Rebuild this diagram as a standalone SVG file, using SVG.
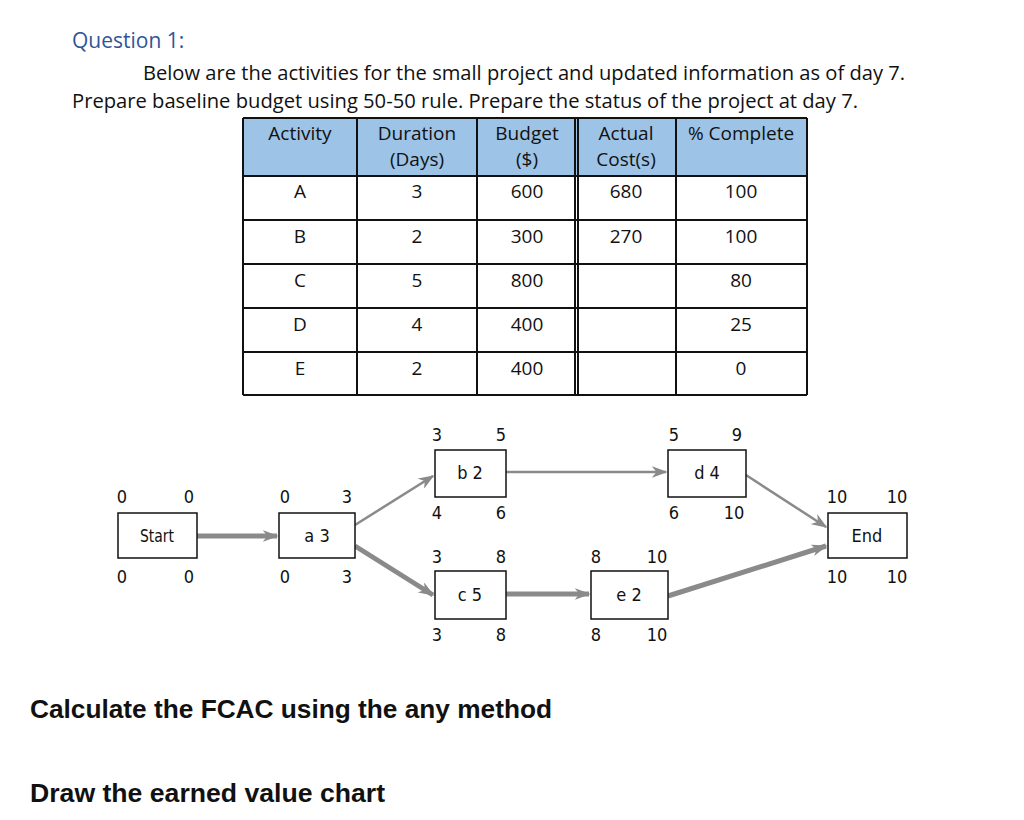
<svg xmlns="http://www.w3.org/2000/svg" width="1024" height="820" viewBox="0 0 1024 820">
<style>
.t{font-family:"Open Sans","Liberation Sans",sans-serif;font-size:20px;fill:#111}
.c{font-family:"Open Sans","Liberation Sans",sans-serif;font-size:19px;fill:#111;text-anchor:middle}
.n{font-family:"DejaVu Sans","Liberation Sans",sans-serif;font-stretch:condensed;font-size:18px;fill:#111;text-anchor:middle}
.box{fill:#fff;stroke:#111;stroke-width:1.5}
.hd{fill:#9DC3E6}
.ln{stroke:#111;stroke-width:2}
.a{stroke:#8a8a8a;fill:none}
.b{font-family:"Liberation Sans",Arial,sans-serif;font-weight:bold;font-size:25px;fill:#111}
</style>
<defs>
<marker id="m" viewBox="0 0 10 10" refX="9" refY="5" markerWidth="16" markerHeight="12" orient="auto" markerUnits="userSpaceOnUse" preserveAspectRatio="none"><path d="M0,0L10,5L0,10L3,5z" fill="#8a8a8a"/></marker>
</defs>
<rect width="1024" height="820" fill="#fff"/>
<text x="72" y="48" class="t" style="fill:#2F5597;font-size:21px">Question 1:</text>
<text x="143" y="80" class="t" textLength="762" lengthAdjust="spacingAndGlyphs">Below are the activities for the small project and updated information as of day 7.</text>
<text x="72" y="108" class="t" textLength="786" lengthAdjust="spacingAndGlyphs">Prepare baseline budget using 50-50 rule. Prepare the status of the project at day 7.</text>
<g id="table">
<rect x="243" y="118" width="564" height="58" class="hd"/>
<g class="ln">
<line x1="243" y1="118" x2="807" y2="118"/><line x1="243" y1="176" x2="807" y2="176"/>
<line x1="243" y1="220" x2="807" y2="220"/><line x1="243" y1="264" x2="807" y2="264"/>
<line x1="243" y1="308" x2="807" y2="308"/><line x1="243" y1="352" x2="807" y2="352"/>
<line x1="243" y1="395" x2="807" y2="395"/>
<line x1="243" y1="118" x2="243" y2="395"/><line x1="357" y1="118" x2="357" y2="395"/>
<line x1="477" y1="118" x2="477" y2="395"/><line x1="575" y1="118" x2="575" y2="395"/><line x1="578" y1="118" x2="578" y2="395"/>
<line x1="676" y1="118" x2="676" y2="395"/><line x1="807" y1="118" x2="807" y2="395"/>
</g>
<text x="300" y="140" class="c">Activity</text>
<text x="417" y="140" class="c">Duration</text><text x="417" y="166" class="c">(Days)</text>
<text x="527" y="140" class="c">Budget</text><text x="527" y="166" class="c">($)</text>
<text x="626" y="140" class="c">Actual</text><text x="626" y="166" class="c">Cost(s)</text>
<text x="741" y="140" class="c">% Complete</text>
<text x="300" y="198" class="c">A</text><text x="417" y="198" class="c">3</text><text x="527" y="198" class="c">600</text><text x="626" y="198" class="c">680</text><text x="741" y="198" class="c">100</text>
<text x="300" y="243" class="c">B</text><text x="417" y="243" class="c">2</text><text x="527" y="243" class="c">300</text><text x="626" y="243" class="c">270</text><text x="741" y="243" class="c">100</text>
<text x="300" y="287" class="c">C</text><text x="417" y="287" class="c">5</text><text x="527" y="287" class="c">800</text><text x="741" y="287" class="c">80</text>
<text x="300" y="331" class="c">D</text><text x="417" y="331" class="c">4</text><text x="527" y="331" class="c">400</text><text x="741" y="331" class="c">25</text>
<text x="300" y="375" class="c">E</text><text x="417" y="375" class="c">2</text><text x="527" y="375" class="c">400</text><text x="741" y="375" class="c">0</text>
</g>
<g id="connectors">
<line x1="197" y1="536" x2="277" y2="536" class="a" stroke-width="5" marker-end="url(#m)"/>
<line x1="355" y1="525" x2="433" y2="476" class="a" stroke-width="2.5" marker-end="url(#m)"/>
<line x1="355" y1="546" x2="433" y2="595" class="a" stroke-width="5" marker-end="url(#m)"/>
<line x1="506" y1="472" x2="666" y2="472" class="a" stroke-width="2.5" marker-end="url(#m)"/>
<line x1="506" y1="594" x2="589" y2="594" class="a" stroke-width="5" marker-end="url(#m)"/>
<line x1="746" y1="475" x2="826" y2="527" class="a" stroke-width="2.5" marker-end="url(#m)"/>
<line x1="668" y1="596" x2="826" y2="546" class="a" stroke-width="5" marker-end="url(#m)"/>
</g>
<g id="start"><rect x="118" y="513" width="79" height="45" class="box"/><text x="157" y="542" class="n" textLength="34" lengthAdjust="spacingAndGlyphs">Start</text>
<text x="122" y="503" class="n">0</text><text x="189" y="503" class="n">0</text><text x="122" y="583" class="n">0</text><text x="189" y="583" class="n">0</text></g>
<g id="a"><rect x="279" y="513" width="76" height="45" class="box"/><text x="317" y="542" class="n">a 3</text>
<text x="285" y="503" class="n">0</text><text x="347" y="503" class="n">3</text><text x="285" y="583" class="n">0</text><text x="347" y="583" class="n">3</text></g>
<g id="b"><rect x="435" y="450" width="71" height="47" class="box"/><text x="470" y="479" class="n">b 2</text>
<text x="437" y="441" class="n">3</text><text x="501" y="441" class="n">5</text><text x="437" y="519" class="n">4</text><text x="501" y="519" class="n">6</text></g>
<g id="d"><rect x="668" y="450" width="78" height="47" class="box"/><text x="707" y="479" class="n">d 4</text>
<text x="674" y="441" class="n">5</text><text x="737" y="441" class="n">9</text><text x="674" y="519" class="n">6</text><text x="734" y="519" class="n">10</text></g>
<g id="c"><rect x="435" y="571" width="71" height="48" class="box"/><text x="470" y="601" class="n">c 5</text>
<text x="437" y="563" class="n">3</text><text x="501" y="563" class="n">8</text><text x="437" y="641" class="n">3</text><text x="501" y="641" class="n">8</text></g>
<g id="e"><rect x="591" y="571" width="77" height="48" class="box"/><text x="629" y="601" class="n">e 2</text>
<text x="596" y="563" class="n">8</text><text x="657" y="563" class="n">10</text><text x="596" y="641" class="n">8</text><text x="657" y="641" class="n">10</text></g>
<g id="end"><rect x="828" y="513" width="79" height="45" class="box"/><text x="867" y="542" class="n">End</text>
<text x="837" y="503" class="n">10</text><text x="897" y="503" class="n">10</text><text x="837" y="583" class="n">10</text><text x="897" y="583" class="n">10</text></g>
<text x="30" y="718" class="b" textLength="522" lengthAdjust="spacingAndGlyphs">Calculate the FCAC using the any method</text>
<text x="30" y="802" class="b" textLength="355" lengthAdjust="spacingAndGlyphs">Draw the earned value chart</text>
</svg>
